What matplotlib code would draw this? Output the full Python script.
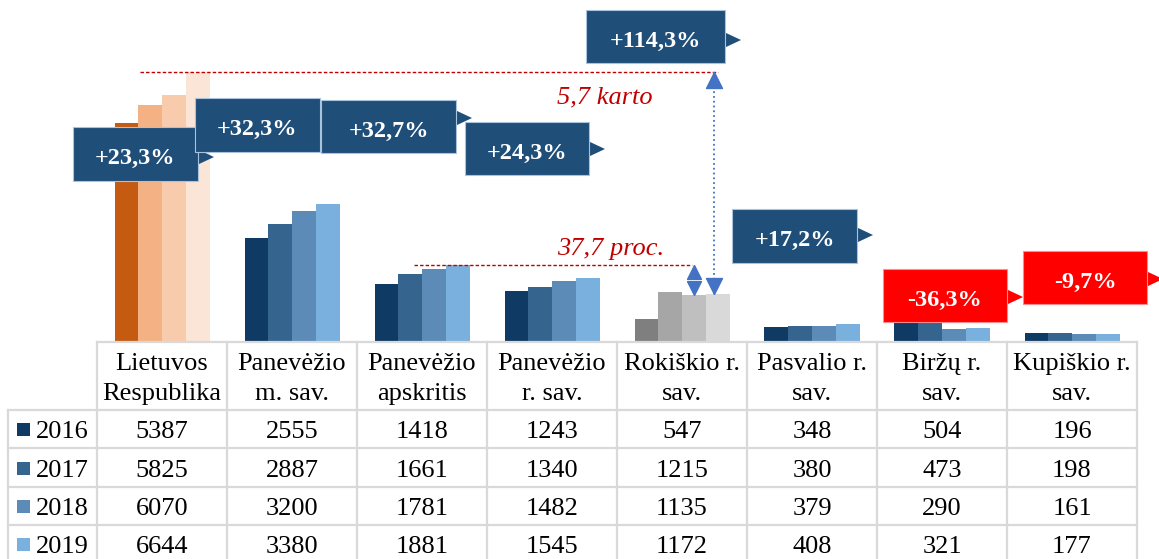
import numpy as np
import matplotlib.pyplot as plt
import matplotlib.transforms as mtransforms
from matplotlib.patches import Rectangle, Polygon
from matplotlib.lines import Line2D

plt.rcParams['font.family'] = ['Liberation Serif', 'DejaVu Serif']

#############################################################################
################################### DATA ####################################
#############################################################################

categories = [["Lietuvos", "Respublika"], ["Panevėžio", "m. sav."],
              ["Panevėžio", "apskritis"], ["Panevėžio", "r. sav."],
              ["Rokiškio r.", "sav."], ["Pasvalio r.", "sav."],
              ["Biržų r.", "sav."], ["Kupiškio r.", "sav."]]
years = ["2016", "2017", "2018", "2019"]
v2016 = [5387, 2555, 1418, 1243, 547, 348, 504, 196]
v2017 = [5825, 2887, 1661, 1340, 1215, 380, 473, 198]
v2018 = [6070, 3200, 1781, 1482, 1135, 379, 290, 161]
v2019 = [6644, 3380, 1881, 1545, 1172, 408, 321, 177]
series = [v2016, v2017, v2018, v2019]

blue = ["#0E3A63", "#35648F", "#5B8BB6", "#7AB0DD"]
orange = ["#C55A11", "#F4B183", "#F8CBAD", "#FBE5D6"]
grey = ["#7F7F7F", "#A6A6A6", "#BFBFBF", "#D9D9D9"]


def lt(num, digits=1):
    return f"{num:.{digits}f}".replace(".", ",")


#############################################################################
################################ BAR CHART ##################################
#############################################################################

W, H = 1159, 559
fig = plt.figure(figsize=(W / 100, H / 100), dpi=100)
# pixel coordinates (origin top-left) for the callouts and the table
px = mtransforms.Affine2D().scale(1 / W, -1 / H).translate(0, 1) + fig.transFigure

ax = fig.add_axes([97 / W, 1 - 341 / H, 1040 / W, 341 / H])
ax.set_xlim(-0.5, 7.5)
ax.set_ylim(0, 341 / 0.040488)
ax.axis('off')

x = np.arange(len(categories))
bw = 95 / 4 / 130
for j, vals in enumerate(series):
    cols = [orange[j] if i == 0 else grey[j] if i == 4 else blue[j]
            for i in range(len(categories))]
    ax.bar(x + (j - 1.5) * bw, vals, bw, color=cols, zorder=2)

# red dashed reference lines + comparison text
red = "#C00000"
ax.plot([-0.17, 4.28], [v2019[0], v2019[0]], color=red, lw=1,
        ls=(0, (2.5, 1.5)), zorder=3)
ax.plot([1.94, 4.08], [v2019[2], v2019[2]], color=red, lw=1,
        ls=(0, (2.5, 1.5)), zorder=3)
ax.text(605, 103, lt(v2019[0] / v2019[4]) + " karto", transform=px,
        color=red, style='italic', fontsize=19, ha='center', va='baseline')
ax.text(611, 255, lt((1 - v2019[4] / v2019[2]) * 100) + " proc.",
        transform=px, color=red, style='italic', fontsize=19,
        ha='center', va='baseline')

# blue arrows
arr = "#4472C4"
up = [(0, 0), (-0.5, -1), (0.5, -1), (0, 0)]
down = [(0, 0), (-0.5, 1), (0.5, 1), (0, 0)]
xa = 4.246
ax.plot([xa, xa], [v2019[4], v2019[0]], color=arr, lw=1.3, ls=':', zorder=4)
ax.plot([xa], [v2019[0]], marker=up, ms=23, color=arr, ls='', zorder=4)
ax.plot([xa], [v2019[4]], marker=down, ms=23, color=arr, ls='', zorder=4)
xs = 4 + 0.5 * bw
ax.plot([xs], [v2019[2]], marker=up, ms=20, color=arr, ls='', zorder=4)
ax.plot([xs], [v2018[4]], marker=down, ms=20, color=arr, ls='', zorder=4)

# change callouts (2019 vs 2016)
boxes = [(73, 127, 125, 54), (195, 98, 125, 54), (321, 100, 135, 53),
         (465, 122, 124, 53), (586, 10, 139, 53), (732, 209, 125, 54),
         (883, 269, 124, 53), (1023, 251, 124, 53)]
pointer_y = [157, 124, 118, 149, 40, 235, 297, 279]
for i, (x0, y0, w, h) in enumerate(boxes):
    change = (v2019[i] / v2016[i] - 1) * 100
    label = ("+" if change > 0 else "-") + lt(abs(change)) + "%"
    fc = "#1F4E79" if change > 0 else "#FF0000"
    ec = "#A9C3DD" if change > 0 else "#FF8C8C"
    z = 10 + i
    cy = y0 + h / 2
    py = pointer_y[i]
    ax.add_patch(Polygon([(x0 + w, py - 7.5), (x0 + w + 16, py),
                          (x0 + w, py + 7.5)], closed=True, transform=px,
                         fc=fc, ec='none', clip_on=False, zorder=z))
    ax.add_patch(Rectangle((x0, y0), w, h, transform=px, fc=fc, ec=ec,
                           lw=0.8, clip_on=False, zorder=z))
    ax.text(x0 + w / 2, cy + 10, label, transform=px, color="white",
            fontsize=17.5, fontweight='bold', ha='center', va='baseline',
            zorder=z)

#############################################################################
################################ DATA TABLE #################################
#############################################################################

gc = "#D9D9D9"
col_x = [97 + 130 * k for k in range(len(categories) + 1)]
rows_y = [410, 448, 487, 525]

fig.add_artist(Line2D([97, 1137], [342, 342], transform=px, color=gc, lw=1.6))
for yy in rows_y:
    fig.add_artist(Line2D([8, 1137], [yy, yy], transform=px, color=gc, lw=1.6))
for xx in col_x:
    fig.add_artist(Line2D([xx, xx], [342, H], transform=px, color=gc, lw=1.6))
fig.add_artist(Line2D([8, 8], [410, H], transform=px, color=gc, lw=1.6))

for i, (l1, l2) in enumerate(categories):
    cx = col_x[i] + 65
    fig.text(cx, 370, l1, transform=px, fontsize=19, ha='center', va='baseline')
    fig.text(cx, 400, l2, transform=px, fontsize=19, ha='center', va='baseline')

baselines = [438, 477, 515, 553]
for j, vals in enumerate(series):
    by = baselines[j]
    fig.add_artist(Rectangle((17, by - 15), 13, 13, transform=px,
                             fc=blue[j], ec='none'))
    fig.text(36, by, years[j], transform=px, fontsize=19, va='baseline')
    for i, v in enumerate(vals):
        fig.text(col_x[i] + 65, by, str(v), transform=px, fontsize=19,
                 ha='center', va='baseline')

fig.savefig("out.png", dpi=100)
